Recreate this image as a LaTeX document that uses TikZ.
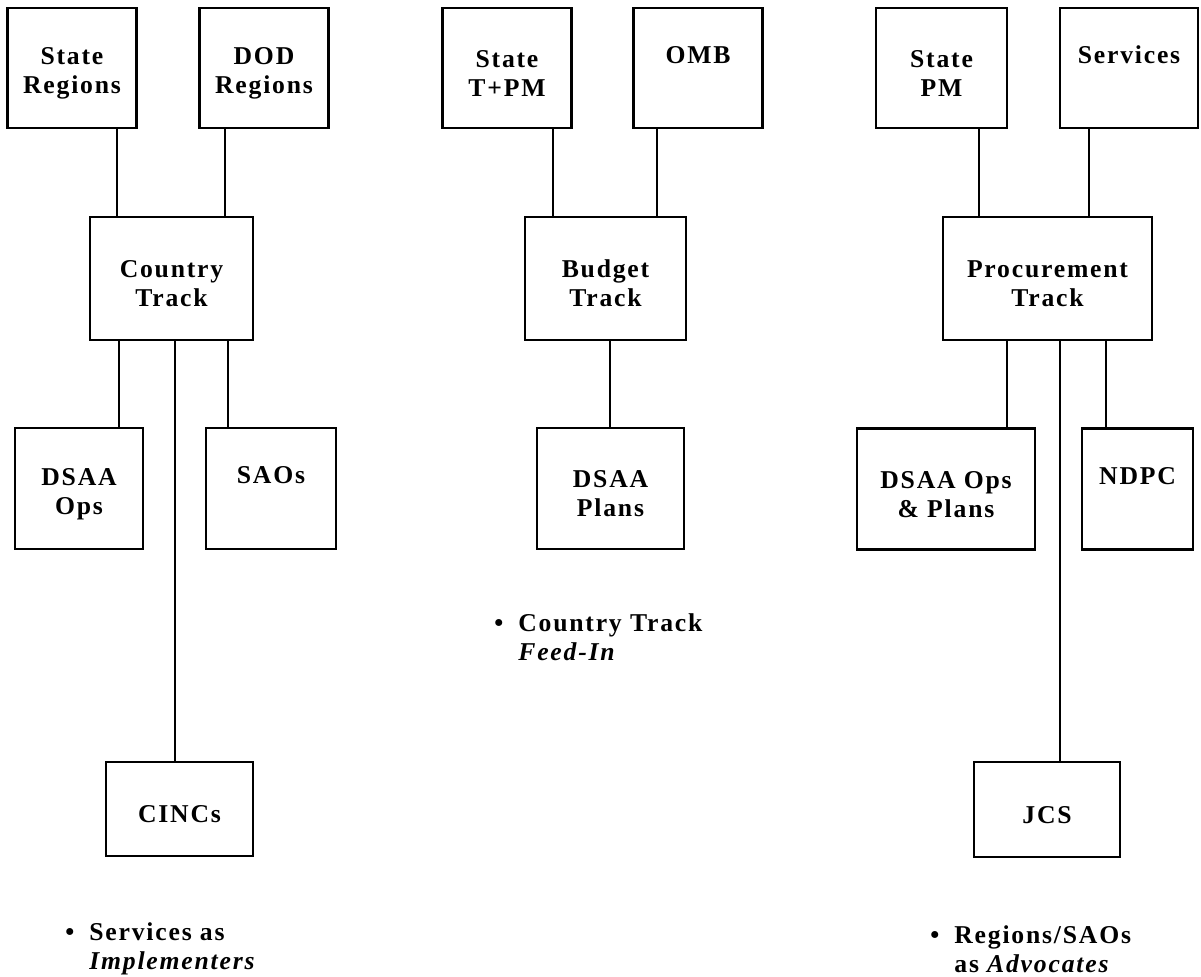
\documentclass[tikz,border=0pt]{standalone}
\usepackage{fontspec}
\setmainfont{Liberation Serif}[LetterSpace=7]
\newcommand{\tall}{\rule{0pt}{0.28cm}}
\begin{document}
\begin{tikzpicture}[x=0.01cm, y=-0.01cm, line width=0.027cm,
    box/.style={draw, align=center, inner sep=0pt, font=\bfseries\fontsize{7.3}{8.25}\selectfont},
    topbox/.style={box, minimum width=1.29cm, minimum height=1.2cm},
    trackbox/.style={box, minimum height=1.23cm},
    lowbox/.style={box, minimum height=1.21cm},
    note/.style={anchor=north west, align=left, inner sep=0pt, font=\bfseries\fontsize{7.3}{8.25}\selectfont}]
    \useasboundingbox (0,0) rectangle (1201,976);
    % Country track
    \node[topbox] (sreg) at (72,68) {\tall State\\Regions};
    \node[topbox] (dreg) at (264,68) {\tall DOD\\Regions};
    \node[trackbox, minimum width=1.63cm] (ctry) at (171.5,278.5) {\tall Country\\Track};
    \node[lowbox, minimum width=1.28cm] (dops) at (79,488.5) {\tall DSAA\\Ops};
    \node[lowbox, minimum width=1.30cm] (saos) at (271,488.5) {\tall SAOs\\\strut};
    \node[box, minimum width=1.47cm, minimum height=0.94cm] (cincs) at (179.5,809) {\tall CINCs};
    \draw (sreg.south -| 117,0) -- (ctry.north -| 117,0);
    \draw (dreg.south -| 225,0) -- (ctry.north -| 225,0);
    \draw (ctry.south -| 119,0) -- (dops.north -| 119,0);
    \draw (ctry.south -| 228,0) -- (saos.north -| 228,0);
    \draw (ctry.south -| 175,0) -- (cincs.north -| 175,0);
    \node[note] (implnote) at (88,921) {\llap{\textbullet\hspace{0.15cm}}Services as\\\textit{Implementers}};
    % Budget track
    \node[topbox] (stpm) at (507,68) {\tall State\\T+PM};
    \node[topbox] (omb) at (698,68) {\tall OMB\\\strut};
    \node[trackbox, minimum width=1.61cm] (bdgt) at (605.5,278.5) {\tall Budget\\Track};
    \node[lowbox, minimum width=1.47cm] (dplan) at (610.5,488.5) {\tall DSAA\\Plans};
    \draw (stpm.south -| 553,0) -- (bdgt.north -| 553,0);
    \draw (omb.south -| 657,0) -- (bdgt.north -| 657,0);
    \draw (bdgt.south -| 610,0) -- (dplan.north -| 610,0);
    \node[note] (feednote) at (517,612) {\llap{\textbullet\hspace{0.15cm}}Country Track\\\textit{Feed-In}};
    % Procurement track
    \node[topbox, minimum width=1.31cm] (spm) at (941.5,68) {\tall State\\PM};
    \node[topbox, minimum width=1.38cm] (serv) at (1129,68) {\tall Services\\\strut};
    \node[trackbox, minimum width=2.09cm] (proc) at (1047.5,278.5) {\tall Procurement\\Track};
    \node[lowbox, minimum width=1.78cm] (dopl) at (946,489) {\tall DSAA Ops\\\& Plans};
    \node[lowbox, minimum width=1.11cm] (ndpc) at (1137.5,489) {\tall NDPC\\\strut};
    \node[box, minimum width=1.46cm, minimum height=0.95cm] (jcs) at (1047,809.5) {\tall JCS};
    \draw (spm.south -| 979,0) -- (proc.north -| 979,0);
    \draw (serv.south -| 1089,0) -- (proc.north -| 1089,0);
    \draw (proc.south -| 1007,0) -- (dopl.north -| 1007,0);
    \draw (proc.south -| 1060,0) -- (jcs.north -| 1060,0);
    \draw (proc.south -| 1106,0) -- (ndpc.north -| 1106,0);
    \node[note] (advnote) at (953,924) {\llap{\textbullet\hspace{0.15cm}}Regions/SAOs\\as \textit{Advocates}};
\end{tikzpicture}
\end{document}
